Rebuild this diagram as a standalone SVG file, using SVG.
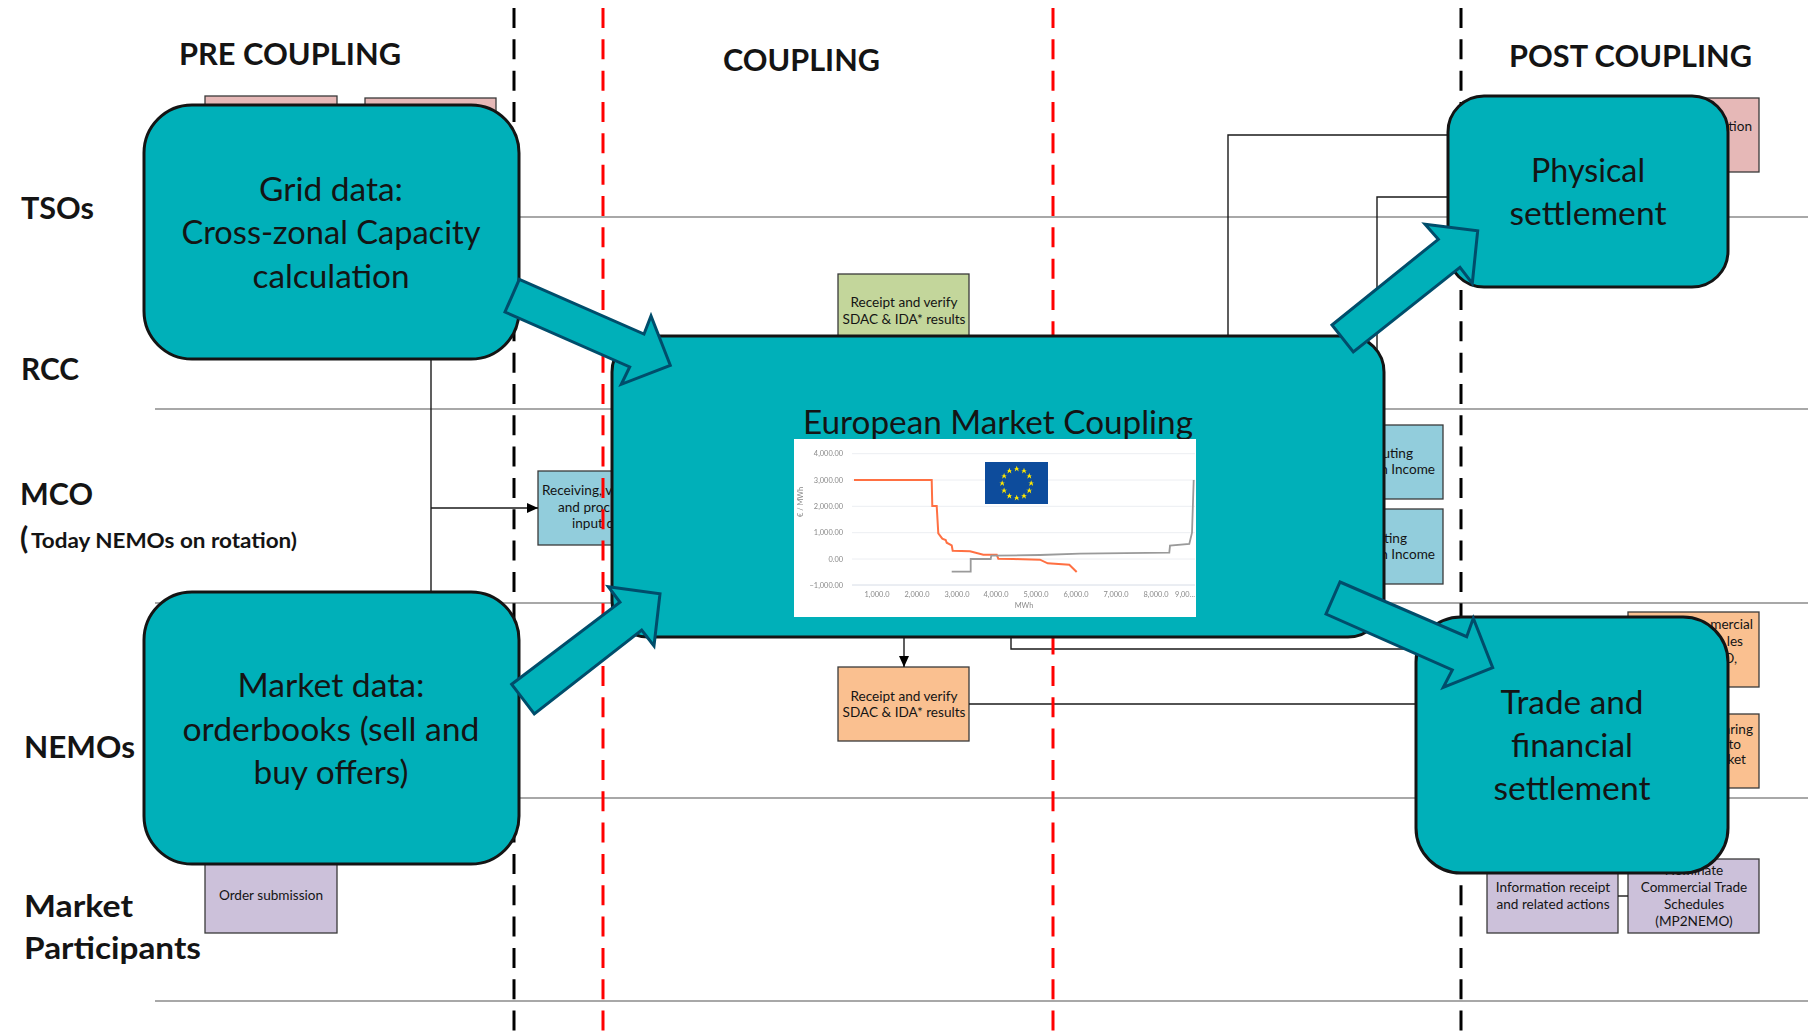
<svg xmlns="http://www.w3.org/2000/svg" xmlns:xlink="http://www.w3.org/1999/xlink" width="1808" height="1031" viewBox="0 0 1808 1031">
<style>
text{font-family:"Lato","Liberation Sans",sans-serif;fill:#141414}
.hd{font-weight:700;font-size:31px}
.lab{font-weight:700;font-size:30px}
.big{font-size:33px;text-anchor:middle}
.sm{font-size:13.6px;text-anchor:middle}
.sme{font-size:13.6px;text-anchor:end}
.sms{font-size:13.6px;text-anchor:start}
.lane{stroke:#8c8c8c;stroke-width:1.5;fill:none}
.bx{stroke:#3a3a3a;stroke-width:1.3}
.pink{fill:#e6b8b7}.blue{fill:#92cddc}.orange{fill:#fac090}.purple{fill:#ccc1da}.green{fill:#c3d69b}
.main{fill:#00b0b9;stroke:#141414;stroke-width:3}
.arw{fill:#00b0b9;stroke:#004d6b;stroke-width:3;stroke-linejoin:miter}
.cn{fill:none;stroke:#1a1a1a;stroke-width:1.4}
.dk{stroke:#000;stroke-width:3;stroke-dasharray:20 11.33;fill:none}
.dr{stroke:#ff0000;stroke-width:3;stroke-dasharray:20 11.33;fill:none}
.tick{font-size:7.4px;fill:#8a8a8a;text-anchor:end}
.tx{font-size:7.4px;fill:#8a8a8a;text-anchor:middle}
.gr{stroke:#eceef2;stroke-width:1}
</style>
<defs>
<marker id="ah" markerUnits="userSpaceOnUse" markerWidth="12" markerHeight="10" refX="11" refY="5" orient="auto"><path d="M0 0L11 5L0 10Z" fill="#000"/></marker>
<path id="st" d="M0-3.200L.8-1L3.100-1L1.300-.4L1.900 2.600L0 .8L-1.900 2.600L-1.300-.4L-3.100-1L-.8-1Z" fill="#ffe800"/>
<filter id="soft" x="-2%" y="-2%" width="104%" height="104%"><feGaussianBlur stdDeviation="0.35"/></filter>
</defs>

<g id="lanes">
<path class="lane" d="M155 217H1808M155 409H1808M155 603H1808M155 798H1808M155 1001H1808"/>
</g>

<g id="headers">
<text class="hd" x="179" y="65" textLength="222" lengthAdjust="spacingAndGlyphs">PRE COUPLING</text>
<text class="hd" x="723" y="71" textLength="157" lengthAdjust="spacingAndGlyphs">COUPLING</text>
<text class="hd" x="1509" y="67" textLength="243" lengthAdjust="spacingAndGlyphs">POST COUPLING</text>
</g>
<g id="rows">
<text class="lab" x="21" y="219" textLength="73" lengthAdjust="spacingAndGlyphs">TSOs</text>
<text class="lab" x="21" y="380" textLength="58" lengthAdjust="spacingAndGlyphs">RCC</text>
<text class="lab" x="20" y="505" textLength="73" lengthAdjust="spacingAndGlyphs">MCO</text>
<text class="lab" x="20" y="549">(</text>
<text x="31" y="548" font-weight="700" font-size="21px" textLength="266" lengthAdjust="spacingAndGlyphs">Today NEMOs on rotation)</text>
<text class="lab" x="24" y="758" textLength="111" lengthAdjust="spacingAndGlyphs">NEMOs</text>
<text class="lab" x="24" y="917" textLength="109" lengthAdjust="spacingAndGlyphs">Market</text>
<text class="lab" x="24" y="959" textLength="177" lengthAdjust="spacingAndGlyphs">Participants</text>
</g>

<g id="box-tso-1"><rect class="bx pink" x="205" y="96" width="132" height="60"/></g>
<g id="box-tso-2"><rect class="bx pink" x="365" y="98" width="131" height="60"/></g>
<g id="box-tso-3"><rect class="bx pink" x="1628" y="98" width="131" height="74"/><text class="sme" x="1752" y="131">tion</text></g>
<g id="box-receiving"><rect class="bx blue" x="538" y="471" width="131" height="74"/>
<text class="sms" x="542" y="495">Receiving, v</text><text class="sms" x="558" y="512">and proc</text><text class="sms" x="572" y="528">input d</text></g>
<g id="box-verify-rcc"><rect class="bx green" x="838" y="274" width="131" height="74"/>
<text class="sm" x="904" y="307">Receipt and verify</text><text class="sm" x="904" y="324">SDAC &amp; IDA* results</text></g>
<g id="box-verify-nemo"><rect class="bx orange" x="838" y="667" width="131" height="74"/>
<text class="sm" x="904" y="701">Receipt and verify</text><text class="sm" x="904" y="717">SDAC &amp; IDA* results</text></g>
<g id="box-income-1"><rect class="bx blue" x="1312" y="425" width="131" height="74"/>
<text class="sme" x="1413" y="458">uting</text><text class="sme" x="1435" y="474">n Income</text></g>
<g id="box-income-2"><rect class="bx blue" x="1312" y="509" width="131" height="75"/>
<text class="sme" x="1407" y="543">ting</text><text class="sme" x="1435" y="559">n Income</text></g>
<g id="box-commercial"><rect class="bx orange" x="1628" y="612" width="131" height="75"/>
<text class="sme" x="1753" y="629">mercial</text><text class="sme" x="1743" y="646">les</text><text class="sme" x="1737" y="663">D,</text></g>
<g id="box-clearing"><rect class="bx orange" x="1628" y="714" width="131" height="74"/>
<text class="sme" x="1753" y="734">aring</text><text class="sme" x="1741" y="749">to</text><text class="sme" x="1746" y="764">ket</text></g>
<g id="box-order"><rect class="bx purple" x="205" y="859" width="132" height="74"/><text class="sm" x="271" y="900">Order submission</text></g>
<g id="box-info"><rect class="bx purple" x="1487" y="859" width="131" height="74"/>
<text class="sm" x="1553" y="892">Information receipt</text><text class="sm" x="1553" y="909">and related actions</text></g>
<g id="box-nominate"><rect class="bx purple" x="1628" y="859" width="131" height="74"/>
<text class="sm" x="1694" y="875">Nominate</text><text class="sm" x="1694" y="892">Commercial Trade</text><text class="sm" x="1694" y="909">Schedules</text><text class="sm" x="1694" y="926">(MP2NEMO)</text></g>

<g id="connectors">
<path class="cn" d="M431 359V592"/>
<path class="cn" d="M431 508H538" marker-end="url(#ah)"/>
<path class="cn" d="M904 637V667" marker-end="url(#ah)"/>
<path class="cn" d="M1228 336V135H1448"/>
<path class="cn" d="M1377 400V197H1448"/>
<path class="cn" d="M1011 637V649H1416"/>
<path class="cn" d="M969 704H1416"/>
<path class="cn" d="M1618 896H1628"/>
</g>

<g id="phase-lines">
<path class="dk" d="M514 8V1031M1461 8V1031"/>
<path class="dr" d="M603 8V1031M1053 8V1031"/>
</g>

<g id="node-grid"><rect class="main" x="144" y="105" width="375" height="254" rx="48"/>
<text class="big" x="331" y="201" textLength="144" lengthAdjust="spacingAndGlyphs">Grid data:</text>
<text class="big" x="331" y="244" textLength="299" lengthAdjust="spacingAndGlyphs">Cross-zonal Capacity</text>
<text class="big" x="331" y="288" textLength="157" lengthAdjust="spacingAndGlyphs">calculation</text></g>
<g id="node-market"><rect class="main" x="144" y="592" width="375" height="272" rx="48"/>
<text class="big" x="331" y="697" textLength="187" lengthAdjust="spacingAndGlyphs">Market data:</text>
<text class="big" x="331" y="741" textLength="297" lengthAdjust="spacingAndGlyphs">orderbooks (sell and</text>
<text class="big" x="331" y="784" textLength="155" lengthAdjust="spacingAndGlyphs">buy offers)</text></g>
<g id="node-central"><rect class="main" x="612" y="336" width="772" height="301" rx="36"/>
<text class="big" x="998" y="434" textLength="390" lengthAdjust="spacingAndGlyphs">European Market Coupling</text>
<g id="chart">
<rect x="794" y="439" width="402" height="178" fill="#fff"/>
<g filter="url(#soft)">
<path class="gr" d="M852 453.7H1195M852 480H1195M852 506.3H1195M852 532.7H1195M852 559H1195"/>
<path d="M852 585H1195" stroke="#d6dce6" stroke-width="1"/>
<text class="tick" x="843" y="456">4,000.00</text><text class="tick" x="843" y="482.500">3,000.00</text><text class="tick" x="843" y="509">2,000.00</text><text class="tick" x="843" y="535">1,000.00</text><text class="tick" x="843" y="561.500">0.00</text><text class="tick" x="843" y="587.500">−1,000.00</text>
<text class="tx" x="877" y="597">1,000.0</text><text class="tx" x="917" y="597">2,000.0</text><text class="tx" x="957" y="597">3,000.0</text><text class="tx" x="996" y="597">4,000.0</text><text class="tx" x="1036" y="597">5,000.0</text><text class="tx" x="1076" y="597">6,000.0</text><text class="tx" x="1116" y="597">7,000.0</text><text class="tx" x="1156" y="597">8,000.0</text><text class="tx" x="1185" y="597">9,00...</text>
<text class="tx" x="1024" y="608">MWh</text>
<text class="tx" transform="translate(803 502) rotate(-90)">€ / MWh</text>
<path fill="none" stroke="#ff7043" stroke-width="2" d="M854 480H931.700L932.300 506H936.700L938.300 533.300L942.300 538.700L945.700 540L946.700 542.700L951.700 545.300L952.700 550.700L970 551.300L983.300 554.700H996.700L998.300 558.700L1013.300 559L1040 559.700L1047.700 563.300L1069.300 564.700L1076.700 572"/>
<path fill="none" stroke="#9a9a9a" stroke-width="1.800" d="M951.700 571.700H970.700V559H990.700L991.300 555.700L1040 555L1080 553.700L1169.300 552.700L1170 545.700L1189.300 544L1192 532.700L1193.700 480"/>
</g>
<g id="flag"><rect x="985" y="462" width="63" height="42" fill="#0d4c9c"/>
<use xlink:href="#st" href="#st" x="1016.700" y="469"/><use xlink:href="#st" href="#st" x="1024" y="470.900"/><use xlink:href="#st" href="#st" x="1029.300" y="476.200"/><use xlink:href="#st" href="#st" x="1031.200" y="483.500"/><use xlink:href="#st" href="#st" x="1029.300" y="490.800"/><use xlink:href="#st" href="#st" x="1024" y="496.100"/><use xlink:href="#st" href="#st" x="1016.700" y="498"/><use xlink:href="#st" href="#st" x="1009.400" y="496.100"/><use xlink:href="#st" href="#st" x="1004.100" y="490.800"/><use xlink:href="#st" href="#st" x="1002.200" y="483.500"/><use xlink:href="#st" href="#st" x="1004.100" y="476.200"/><use xlink:href="#st" href="#st" x="1009.400" y="470.900"/>
</g>
</g></g>
<g id="node-physical"><rect class="main" x="1448" y="96" width="280" height="191" rx="36"/>
<text class="big" x="1588" y="182" textLength="114" lengthAdjust="spacingAndGlyphs">Physical</text><text class="big" x="1588" y="225" textLength="157" lengthAdjust="spacingAndGlyphs">settlement</text></g>
<g id="node-trade"><rect class="main" x="1416" y="617" width="312" height="256" rx="45"/>
<text class="big" x="1572" y="714" textLength="143" lengthAdjust="spacingAndGlyphs">Trade and</text><text class="big" x="1572" y="757" textLength="122" lengthAdjust="spacingAndGlyphs">financial</text><text class="big" x="1572" y="800" textLength="157" lengthAdjust="spacingAndGlyphs">settlement</text></g>

<g id="flow-arrows">
<polygon class="arw" points="519.300,279.300 644,334 651,316 670.300,365.300 621.300,384.300 629.700,367 505,312"/>
<polygon class="arw" points="511.700,684.300 620,602.300 608.300,586.700 660,593.700 654,646 641.700,630 534.300,714"/>
<polygon class="arw" points="1332,325 1438.300,239.300 1425,224.300 1477.700,230.700 1472.300,283.300 1460,267.300 1353.300,352"/>
<polygon class="arw" points="1340,582 1466.700,636.700 1473.300,618.300 1492.700,667.700 1443.300,687.300 1452.300,670 1326,614"/>
</g>
</svg>
